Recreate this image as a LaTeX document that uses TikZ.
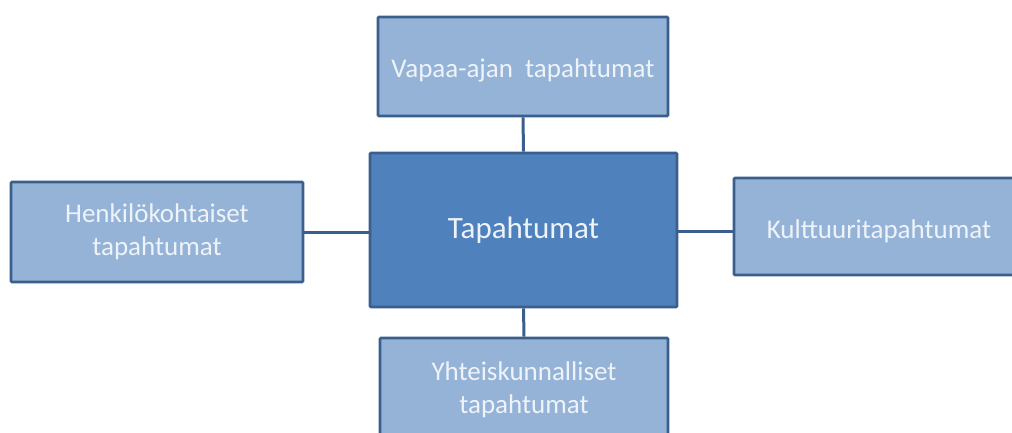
\documentclass[tikz,border=0pt]{standalone}
\usepackage{fontspec}
\setmainfont{Carlito}
\definecolor{hubfill}{HTML}{4F81BD}
\definecolor{leaffill}{HTML}{95B3D7}
\definecolor{edgeblue}{HTML}{3A5F8C}
\definecolor{labeltext}{HTML}{EEF3FA}
\begin{document}
\begin{tikzpicture}[x=1pt,y=-1pt,
  box/.style={draw=edgeblue,line width=2.6pt,rounded corners=1pt,inner sep=0pt,
    text=labeltext,align=center},
  hubbox/.style={box,fill=hubfill,font=\fontsize{31}{38}\selectfont},
  leafbox/.style={box,fill=leaffill,font=\fontsize{27}{33}\selectfont},
  link/.style={draw=edgeblue,line width=3pt}]
\useasboundingbox (0,0) rectangle (1012,433);
\fill[white] (0,0) rectangle (1012,433);
% central box
\node[hubbox,minimum width=307pt,minimum height=154pt] (hub) at (523.5,230) {Tapahtumat};
% surrounding boxes
\node[leafbox,minimum width=290pt,minimum height=99pt,text height=22pt,text depth=0pt] (top) at (523,66.5) {Vapaa-ajan\ \ tapahtumat};
\node[leafbox,minimum width=292pt,minimum height=100pt] (left) at (157,232) {Henkilökohtaiset\\tapahtumat};
\node[leafbox,minimum width=290pt,minimum height=97pt,text height=24pt,text depth=0pt] (right) at (879,226.5) {Kulttuuritapahtumat};
\node[leafbox,minimum width=288pt,minimum height=104pt] (bottom) at (524,390) {Yhteiskunnalliset\\tapahtumat};
% connectors
\draw[link] (top.south) -- (hub.north);
\draw[link] (hub.south) -- (bottom.north);
\draw[link] (left.east) -- (left.east -| hub.west);
\draw[link] ([yshift=-5pt]right.west) -- ([yshift=-5pt]right.west -| hub.east);
\end{tikzpicture}
\end{document}
